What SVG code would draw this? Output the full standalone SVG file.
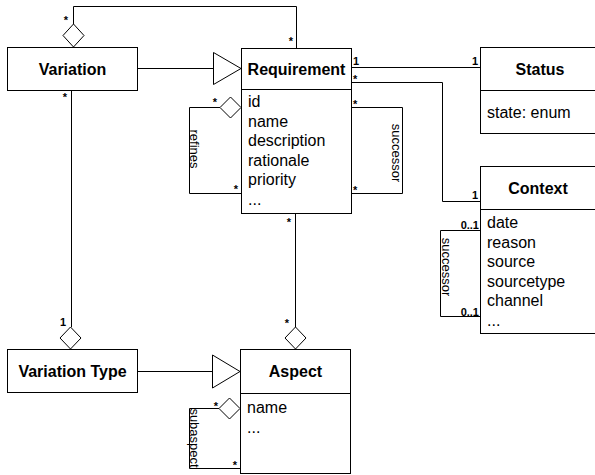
<svg xmlns="http://www.w3.org/2000/svg" width="595" height="475" viewBox="0 0 595 475">
<style>
.box{fill:#fff;stroke:#000;stroke-width:1}
.ln{fill:none;stroke:#000;stroke-width:1}
.hd{fill:#fff;stroke:#000;stroke-width:1}
text{font-family:"Liberation Sans",Arial,Helvetica,sans-serif;fill:#000}
.ti{font-size:16px;font-weight:bold;text-anchor:middle}
.at{font-size:16px}
.m{font-size:11px;font-weight:bold}
.mc{text-anchor:middle}
.me{text-anchor:end}
.lb{font-size:13px;text-anchor:middle}
</style>
<rect width="595" height="475" fill="#fff"/>
<g id="connectors">
  <!-- Variation aggregation to Requirement (top) -->
  <path class="ln" d="M73.5,24 V6.5 H296.5 V48"/>
  <polygon class="hd" points="73.5,24 84,35.5 73.5,47 63,35.5"/>
  <!-- Variation generalization to Requirement -->
  <path class="ln" d="M137,68.5 H213"/>
  <polygon class="hd" points="213.5,52.5 241,68.5 213.5,84.5"/>
  <!-- refines -->
  <path class="ln" d="M220,107.5 H189.5 V193.5 H241"/>
  <polygon class="hd" points="241,107.5 230.5,118 220,107.5 230.5,97"/>
  <!-- Variation to Variation Type -->
  <path class="ln" d="M71.5,90 V327"/>
  <polygon class="hd" points="70.5,327 81,338 70.5,349 60,338"/>
  <!-- Variation Type generalization to Aspect -->
  <path class="ln" d="M137,371.5 H212"/>
  <polygon class="hd" points="212.5,355 240,371.5 212.5,388"/>
  <!-- Requirement to Aspect -->
  <path class="ln" d="M295.5,213 V327"/>
  <polygon class="hd" points="295.5,327 306,338 295.5,349 285,338"/>
  <!-- subaspect -->
  <path class="ln" d="M219,408.5 H189.5 V468.5 H240"/>
  <polygon class="hd" points="240,408.5 229.5,419 219,408.5 229.5,398"/>
  <!-- Requirement - Status -->
  <path class="ln" d="M351,67.5 H480"/>
  <!-- Requirement - Context -->
  <path class="ln" d="M351,82.5 H442.5 V201.5 H480"/>
  <!-- Requirement successor -->
  <path class="ln" d="M351,107.5 H402.5 V193.5 H351"/>
  <!-- Context successor -->
  <path class="ln" d="M480,230.5 H440.5 V316.5 H480"/>

  <!-- multiplicities -->
  <text class="m mc" x="66" y="24">*</text>
  <text class="m mc" x="291" y="45">*</text>
  <text class="m mc" x="65" y="101">*</text>
  <text class="m mc" x="215" y="106">*</text>
  <text class="m mc" x="236" y="193">*</text>
  <text class="m mc" x="289" y="226">*</text>
  <text class="m" x="353" y="65">1</text>
  <text class="m" x="353" y="83">*</text>
  <text class="m" x="353" y="108">*</text>
  <text class="m" x="353" y="194">*</text>
  <text class="m me" x="478" y="65">1</text>
  <text class="m me" x="478" y="199">1</text>
  <text class="m me" x="479" y="229">0..1</text>
  <text class="m me" x="479" y="316">0..1</text>
  <text class="m mc" x="63" y="326">1</text>
  <text class="m mc" x="287" y="327">*</text>
  <text class="m mc" x="216" y="410">*</text>
  <text class="m mc" x="235" y="469">*</text>

  <!-- role labels -->
  <text class="lb" transform="translate(189.5,149) rotate(90)">refines</text>
  <text class="lb" transform="translate(391.5,153) rotate(90)">successor</text>
  <text class="lb" transform="translate(442,267) rotate(90)">successor</text>
  <text class="lb" transform="translate(189.5,438) rotate(90)">subaspect</text>
</g>

<g id="variation">
  <rect class="box" x="7.5" y="47.5" width="130" height="43"/>
  <text class="ti" x="72.5" y="74.5">Variation</text>
</g>

<g id="requirement">
  <rect class="box" x="241.5" y="48.5" width="110" height="165"/>
  <path class="ln" d="M241.5,89.5 H351.5"/>
  <text class="ti" x="296.5" y="74.5">Requirement</text>
  <text class="at" x="248" y="107">id</text>
  <text class="at" x="248" y="126.6">name</text>
  <text class="at" x="248" y="146.2">description</text>
  <text class="at" x="248" y="165.8">rationale</text>
  <text class="at" x="248" y="185.4">priority</text>
  <text class="at" x="248" y="205">...</text>
</g>

<g id="status">
  <rect class="box" x="480.5" y="47.5" width="120" height="86"/>
  <path class="ln" d="M480.5,90.5 H600"/>
  <text class="ti" x="540" y="74.5">Status</text>
  <text class="at" x="487" y="118">state: enum</text>
</g>

<g id="context">
  <rect class="box" x="480.5" y="166.5" width="120" height="167"/>
  <path class="ln" d="M480.5,209.5 H600"/>
  <text class="ti" x="538" y="193.5">Context</text>
  <text class="at" x="487" y="228">date</text>
  <text class="at" x="487" y="247.6">reason</text>
  <text class="at" x="487" y="267.2">source</text>
  <text class="at" x="487" y="286.8">sourcetype</text>
  <text class="at" x="487" y="306.4">channel</text>
  <text class="at" x="487" y="326">...</text>
</g>

<g id="variation-type">
  <rect class="box" x="7.5" y="349.5" width="130" height="43"/>
  <text class="ti" x="72.5" y="377">Variation Type</text>
</g>

<g id="aspect">
  <rect class="box" x="240.5" y="349.5" width="110" height="124"/>
  <path class="ln" d="M240.5,393.5 H350.5"/>
  <text class="ti" x="295.5" y="377">Aspect</text>
  <text class="at" x="247" y="413">name</text>
  <text class="at" x="247" y="433">...</text>
</g>
</svg>
